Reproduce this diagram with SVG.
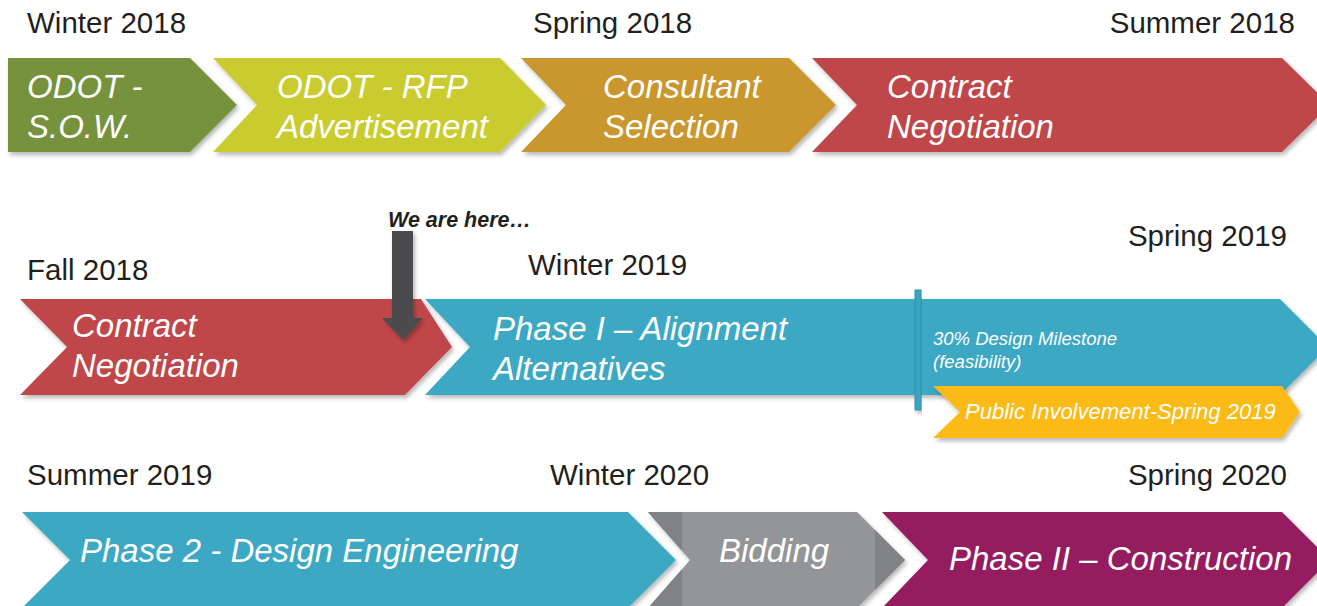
<svg xmlns="http://www.w3.org/2000/svg" width="1317" height="606" viewBox="0 0 1317 606">
<defs>
<filter id="sh" x="-5%" y="-10%" width="115%" height="130%">
<feDropShadow dx="2" dy="3" stdDeviation="2" flood-color="#000" flood-opacity="0.28"/>
</filter>
<clipPath id="bidClip"><polygon points="648,512 857,512 905,560 857,608 648,608 690,560"/></clipPath>
</defs>
<style>
.date{font-family:"Liberation Sans",Arial,sans-serif;font-size:29.5px;fill:#231f20}
.lbl{font-family:"Liberation Sans",Arial,sans-serif;font-size:33px;font-style:italic;fill:#fff}
.small{font-family:"Liberation Sans",Arial,sans-serif;font-size:18.5px;font-style:italic;fill:#fff}
.pi{font-family:"Liberation Sans",Arial,sans-serif;font-size:22px;font-style:italic;fill:#fff}
.here{font-family:"Liberation Sans",Arial,sans-serif;font-size:21.5px;font-style:italic;font-weight:bold;fill:#231f20}
.shape{filter:url(#sh)}
</style>
<rect width="1317" height="606" fill="#fff"/>

<g id="dates">
<text class="date" x="27" y="33">Winter 2018</text>
<text class="date" x="533" y="33">Spring 2018</text>
<text class="date" x="1295" y="33" text-anchor="end">Summer 2018</text>
<text class="date" x="27" y="280">Fall 2018</text>
<text class="date" x="528" y="275">Winter 2019</text>
<text class="date" x="1287" y="246" text-anchor="end">Spring 2019</text>
<text class="date" x="27" y="485">Summer 2019</text>
<text class="date" x="550" y="485">Winter 2020</text>
<text class="date" x="1287" y="485" text-anchor="end">Spring 2020</text>
</g>

<g id="odot-sow">
<polygon class="shape" points="8,58 190,58 237,105 190,152 8,152" fill="#76923c"/>
<text class="lbl" x="27" y="98">ODOT -</text>
<text class="lbl" x="27" y="138">S.O.W.</text>
</g>

<g id="odot-rfp">
<polygon class="shape" points="213,58 500,58 546,105 500,152 213,152 257,105" fill="#c9cb2f"/>
<text class="lbl" x="277" y="98">ODOT - RFP</text>
<text class="lbl" x="277" y="138">Advertisement</text>
</g>

<g id="consultant-selection">
<polygon class="shape" points="521,58 789,58 836,105 789,152 521,152 566,105" fill="#c9972d"/>
<text class="lbl" x="603" y="98">Consultant</text>
<text class="lbl" x="603" y="138">Selection</text>
</g>

<g id="contract-negotiation-1">
<polygon class="shape" points="812,58 1282,58 1330,105 1282,152 812,152 857,105" fill="#c0474a"/>
<text class="lbl" x="887" y="98">Contract</text>
<text class="lbl" x="887" y="138">Negotiation</text>
</g>

<g id="contract-negotiation-2">
<polygon class="shape" points="20,299 421,299 452,347 405,395 20,395 67,347" fill="#c0474a"/>
<text class="lbl" x="72" y="337">Contract</text>
<text class="lbl" x="72" y="377">Negotiation</text>
</g>

<g id="phase1-alignment">
<polygon class="shape" points="425,299 1280,299 1328,347 1280,395 425,395 470,347" fill="#3ea8c4"/>
<text class="lbl" x="493" y="340">Phase I – Alignment</text>
<text class="lbl" x="493" y="380">Alternatives</text>
</g>

<g id="milestone-30">
<rect class="shape" x="915" y="290" width="6" height="120" fill="#3ba4c0" stroke="#2f93ae" stroke-width="1"/>
<text class="small" x="933" y="345">30% Design Milestone</text>
<text class="small" x="933" y="368">(feasibility)</text>
</g>

<g id="public-involvement">
<polygon class="shape" points="933,386 1282,386 1300,412 1282,438 933,438 960,412" fill="#fbba16"/>
<text class="pi" x="965" y="419">Public Involvement-Spring 2019</text>
</g>

<g id="phase2-design">
<polygon class="shape" points="22,512 628,512 676,560 628,608 22,608 70,560" fill="#3ea8c4"/>
<text class="lbl" x="80" y="562">Phase 2 - Design Engineering</text>
</g>

<g id="bidding">
<polygon class="shape" points="648,512 857,512 905,560 857,608 648,608 690,560" fill="#939598"/>
<g clip-path="url(#bidClip)">
<rect x="640" y="512" width="42" height="96" fill="#808285"/>
<rect x="875" y="512" width="40" height="96" fill="#808285"/>
</g>
<text class="lbl" x="719" y="562">Bidding</text>
</g>

<g id="phase2-construction">
<polygon class="shape" points="882,512 1282,512 1330,560 1282,608 882,608 928,560" fill="#951f5e"/>
<text class="lbl" x="949" y="570">Phase II – Construction</text>
</g>

<g id="connectors">
<g id="we-are-here">
<text class="here" x="388" y="227">We are here…</text>
<polygon class="shape" points="392,231 413,231 413,318 423,318 403,340 382,318 392,318" fill="#4b4c4e"/>
</g>
</g>
</svg>
